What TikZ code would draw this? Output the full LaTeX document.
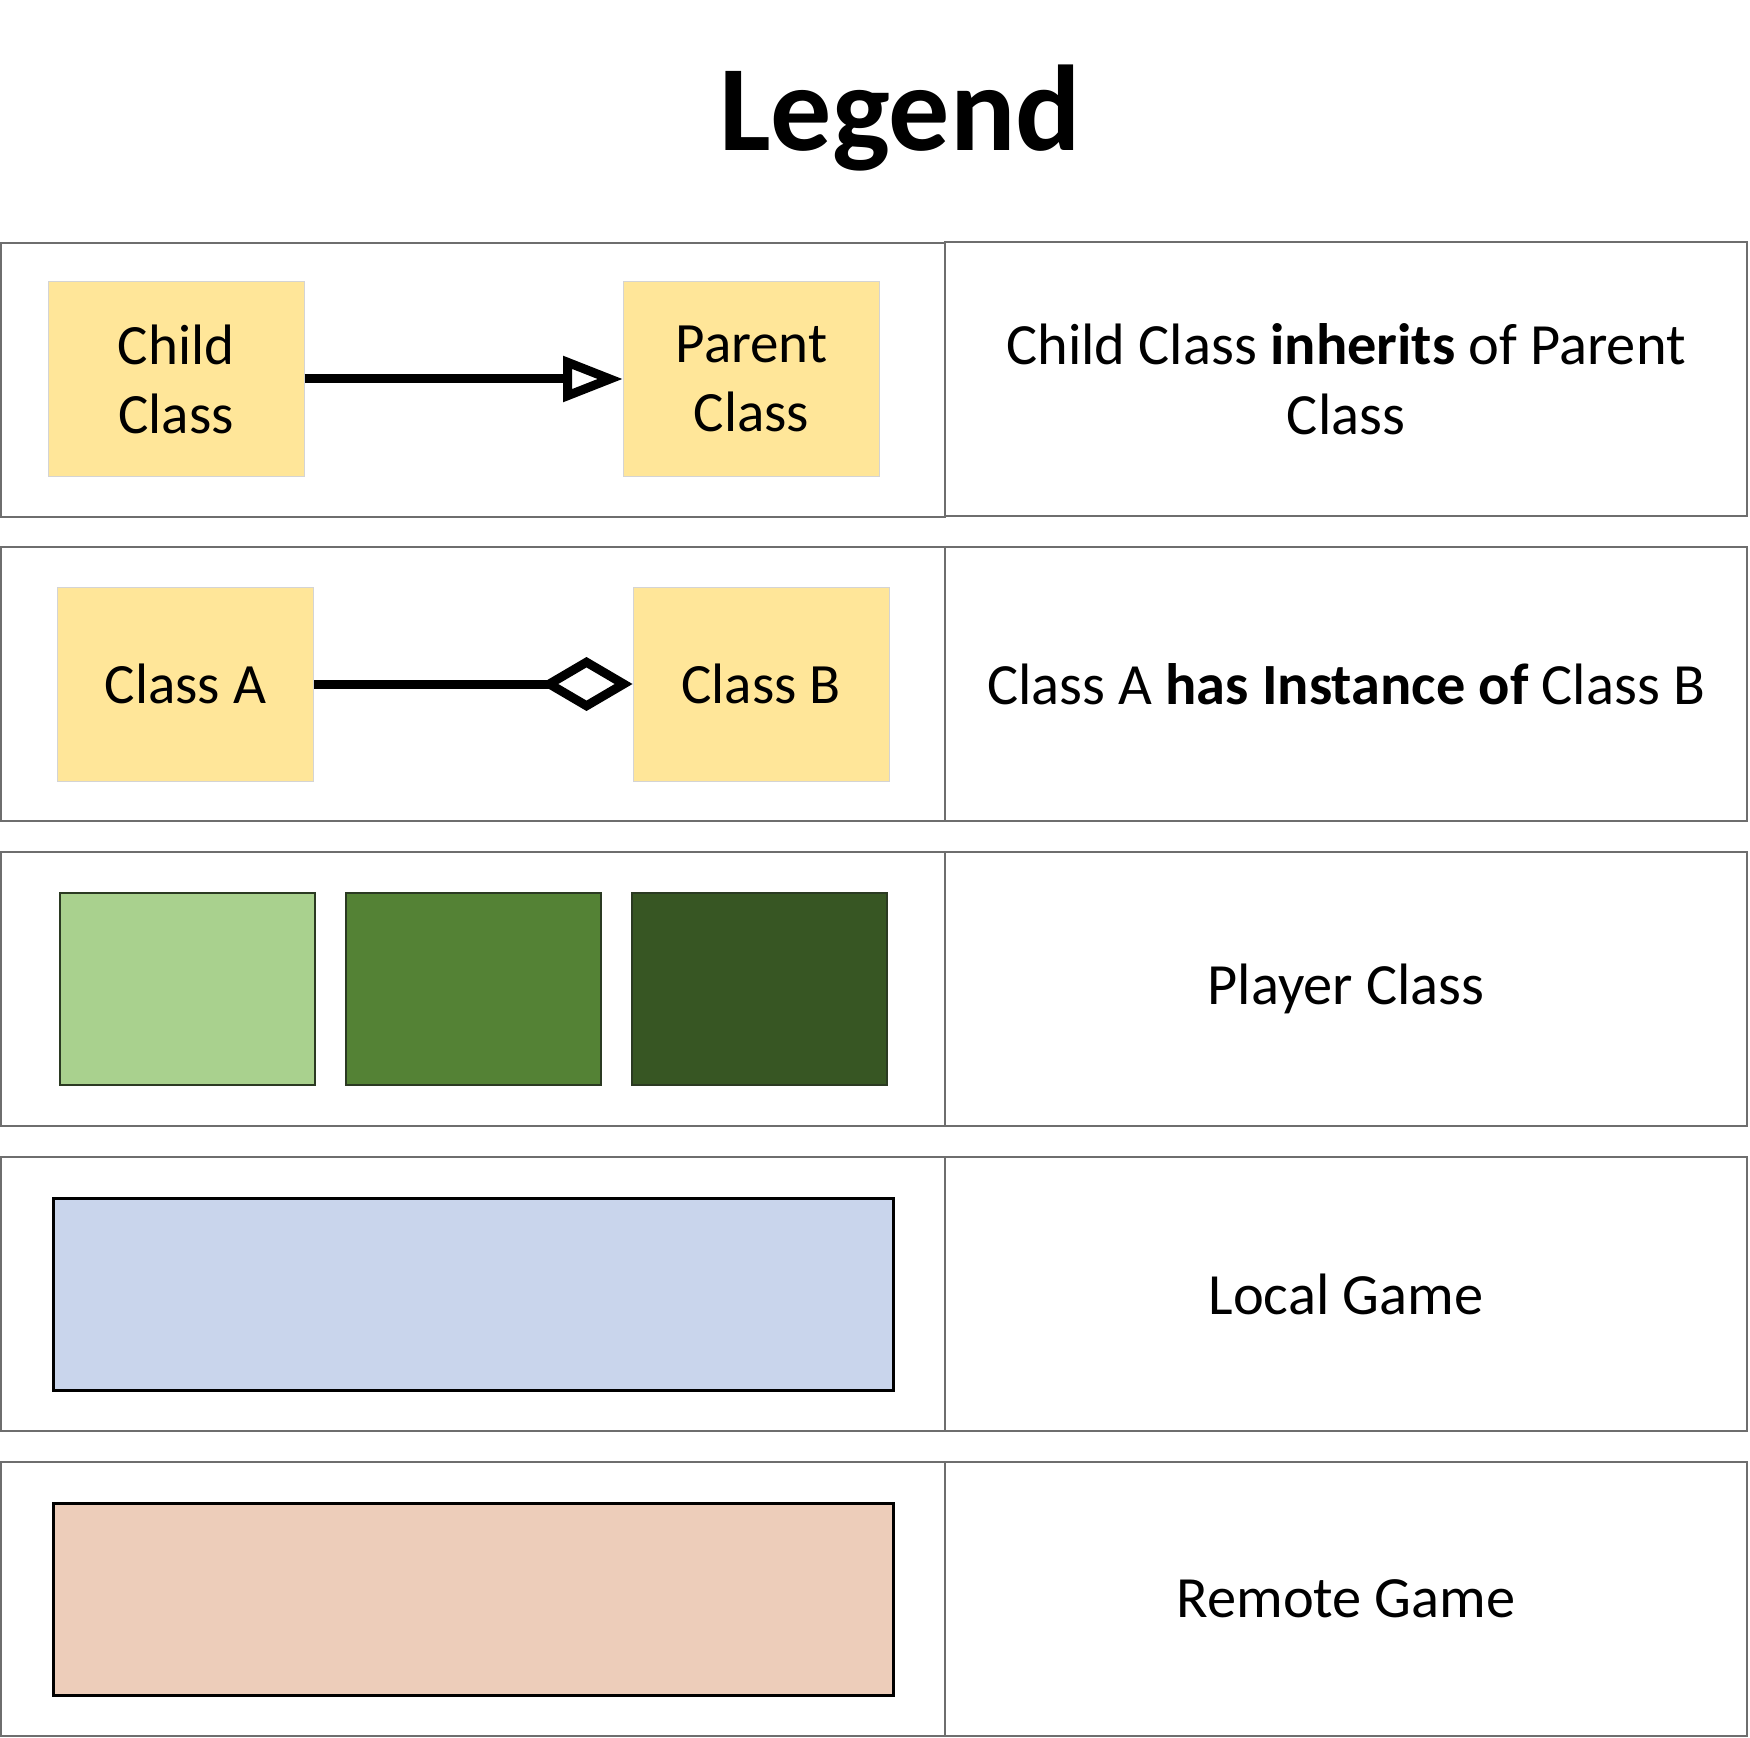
\documentclass[tikz,border=0pt]{standalone}
\usepackage{fontspec}
\setmainfont{Carlito}
\usetikzlibrary{arrows.meta}
\definecolor{classyellow}{HTML}{FFE699}
\definecolor{classedge}{HTML}{D4D4D4}
\definecolor{cellgrey}{HTML}{6E6E6E}
\definecolor{greenA}{HTML}{A9D18E}
\definecolor{greenB}{HTML}{548235}
\definecolor{greenC}{HTML}{375623}
\definecolor{swatchedge}{HTML}{2B3A22}
\definecolor{localblue}{HTML}{C9D5EC}
\definecolor{remotepeach}{HTML}{EDCDBA}
\tikzset{
  bodyfont/.style={font=\fontsize{28.5}{34.5}\selectfont, execute at begin node={\spaceskip=0pt\xspaceskip=0pt}},
  descfont/.style={font=\fontsize{29.2}{35}\selectfont, execute at begin node={\spaceskip=0pt\xspaceskip=0pt}},
  leftcell/.style={draw=cellgrey, line width=1pt, inner sep=0pt, minimum width=472pt, minimum height=137pt},
  rightcell/.style={draw=cellgrey, line width=1pt, inner sep=0pt, minimum width=401pt, minimum height=137pt, align=center, descfont},
  classbox/.style={fill=classyellow, draw=classedge, line width=0.5pt, inner sep=0pt, minimum width=128pt, minimum height=97pt, align=center, bodyfont},
  swatch/.style={draw=swatchedge, line width=0.8pt, inner sep=0pt, minimum width=127.5pt, minimum height=96pt},
  gamebox/.style={draw=black, line width=1.8pt, inner sep=0pt, minimum width=420pt, minimum height=96pt},
  relline/.style={line width=4.5pt}
}
\begin{document}
\begin{tikzpicture}[x=0.5pt,y=-0.5pt]
\useasboundingbox (0,0) rectangle (1750,1738);

\node[anchor=base, font=\fontsize{61}{70}\selectfont\bfseries] (title) at (900,151) {Legend};

% row cells
\node[leftcell] (l1) at (473,380) {};
\node[rightcell] (r1) at (1346,379) {Child Class \textbf{inherits} of Parent\\Class};
\node[leftcell] (l2) at (473,684) {};
\node[rightcell] (r2) at (1346,684) {Class A \textbf{has Instance of} Class B};
\node[leftcell] (l3) at (473,989) {};
\node[rightcell] (r3) at (1346,989) {Player Class};
\node[leftcell] (l4) at (473,1294) {};
\node[rightcell] (r4) at (1346,1294) {Local Game};
\node[leftcell] (l5) at (473,1599) {};
\node[rightcell] (r5) at (1346,1599) {Remote Game};

% row 1: inheritance
\node[classbox] (child) at (176,379) {Child\\Class};
\node[classbox] (parent) at (751.5,379) {Parent\\Class};
\draw[relline, -{Triangle[open, length=30pt, width=22pt, fill=white]}] (child.east) -- (parent.west);

% row 2: aggregation
\node[classbox] (classA) at (185.5,684) {Class A};
\node[classbox] (classB) at (761,684) {Class B};
\draw[relline, -{Diamond[open, length=46pt, width=27pt, fill=white]}] (classA.east) -- (classB.west);

% row 3: player swatches
\node[swatch, fill=greenA] (g1) at (187.5,989) {};
\node[swatch, fill=greenB] (g2) at (473.5,989) {};
\node[swatch, fill=greenC] (g3) at (759.5,989) {};

% row 4 and 5
\node[gamebox, fill=localblue] (local) at (473.5,1294.5) {};
\node[gamebox, fill=remotepeach] (remote) at (473.5,1599.5) {};
\end{tikzpicture}
\end{document}
